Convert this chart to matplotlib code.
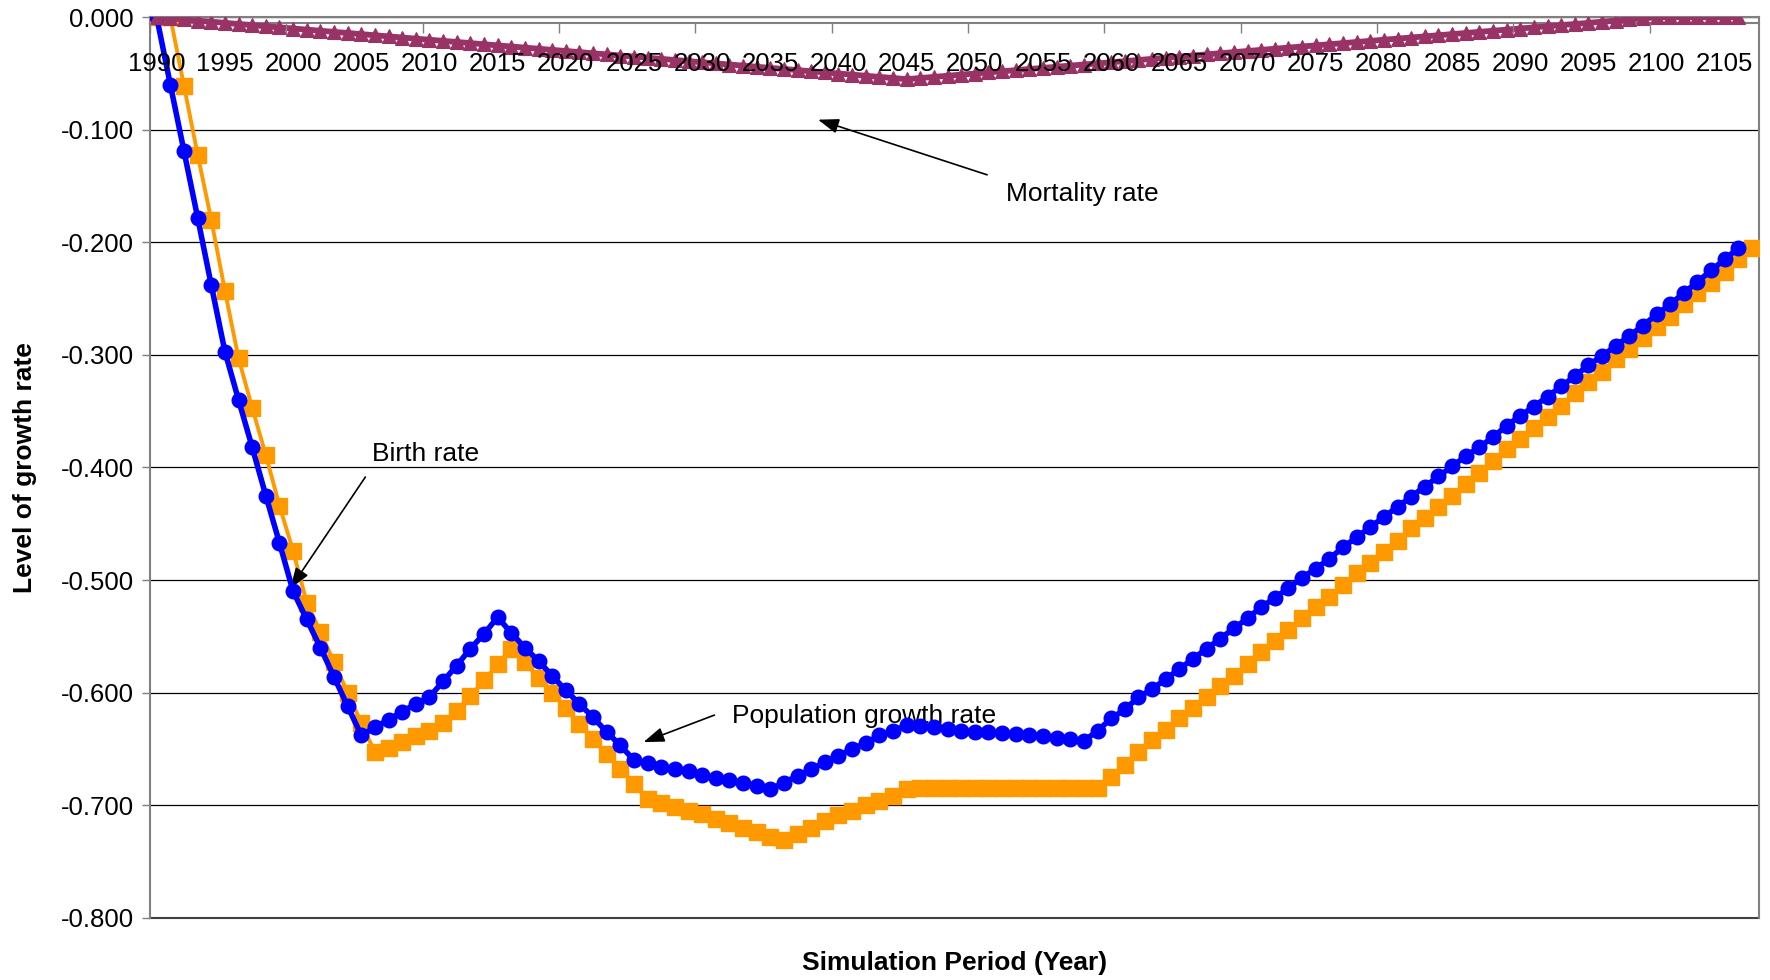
import matplotlib.pyplot as plt
import numpy as np
from matplotlib.ticker import FixedLocator, FuncFormatter

plt.rcParams['font.family'] = ['Liberation Sans', 'DejaVu Sans']
plt.rcParams['axes.unicode_minus'] = False

# birth rate, one value per year 1990-2106
birth_years = np.arange(1990, 2107)
birth_rate = [
    0.000, -0.060, -0.119, -0.178, -0.238, -0.297, -0.340, -0.382, -0.425, -0.467,   # 1990-1999
    -0.510, -0.535, -0.560, -0.586, -0.612, -0.638, -0.631, -0.624, -0.617, -0.610,  # 2000-2009
    -0.604, -0.590, -0.576, -0.561, -0.548, -0.533, -0.547, -0.560, -0.572, -0.585,  # 2010-2019
    -0.598, -0.610, -0.622, -0.635, -0.647, -0.660, -0.663, -0.666, -0.668, -0.670,  # 2020-2029
    -0.673, -0.676, -0.678, -0.680, -0.683, -0.686, -0.680, -0.674, -0.668, -0.662,  # 2030-2039
    -0.656, -0.650, -0.645, -0.638, -0.634, -0.629, -0.630, -0.631, -0.632, -0.634,  # 2040-2049
    -0.635, -0.635, -0.636, -0.637, -0.638, -0.639, -0.640, -0.641, -0.643, -0.634,  # 2050-2059
    -0.623, -0.615, -0.604, -0.597, -0.588, -0.579, -0.570, -0.561, -0.552, -0.543,  # 2060-2069
    -0.534, -0.524, -0.516, -0.507, -0.498, -0.490, -0.481, -0.471, -0.462, -0.453,  # 2070-2079
    -0.444, -0.435, -0.426, -0.417, -0.408, -0.399, -0.390, -0.382, -0.373, -0.363,  # 2080-2089
    -0.354, -0.346, -0.337, -0.328, -0.319, -0.309, -0.301, -0.292, -0.283, -0.274,  # 2090-2099
    -0.264, -0.255, -0.245, -0.235, -0.225, -0.215, -0.205,                          # 2100-2106
]

# population growth rate, 1990-2107
pop_years = np.arange(1990, 2108)
pop_growth = [
    0.000, 0.000, -0.061, -0.122, -0.180, -0.243, -0.303, -0.347, -0.389, -0.434,    # 1990-1999
    -0.474, -0.520, -0.546, -0.573, -0.600, -0.627, -0.653, -0.649, -0.644, -0.639,  # 2000-2009
    -0.634, -0.627, -0.616, -0.603, -0.589, -0.575, -0.561, -0.573, -0.587, -0.600,  # 2010-2019
    -0.614, -0.628, -0.641, -0.655, -0.668, -0.681, -0.695, -0.698, -0.702, -0.705,  # 2020-2029
    -0.708, -0.712, -0.716, -0.720, -0.724, -0.728, -0.731, -0.726, -0.720, -0.714,  # 2030-2039
    -0.709, -0.705, -0.700, -0.696, -0.692, -0.686, -0.685, -0.685, -0.685, -0.685,  # 2040-2049
    -0.685, -0.685, -0.685, -0.685, -0.685, -0.685, -0.685, -0.685, -0.685, -0.685,  # 2050-2059
    -0.675, -0.664, -0.653, -0.642, -0.633, -0.623, -0.614, -0.604, -0.594, -0.585,  # 2060-2069
    -0.575, -0.564, -0.554, -0.544, -0.534, -0.524, -0.515, -0.504, -0.494, -0.485,  # 2070-2079
    -0.475, -0.465, -0.454, -0.445, -0.435, -0.425, -0.415, -0.405, -0.394, -0.384,  # 2080-2089
    -0.375, -0.365, -0.355, -0.345, -0.334, -0.324, -0.315, -0.304, -0.295, -0.285,  # 2090-2099
    -0.275, -0.266, -0.255, -0.245, -0.236, -0.226, -0.215, -0.205,                  # 2100-2107
]

# mortality rate, 1990-2106
mort_years = np.arange(1990, 2107)
mortality = [
    0.000, -0.001, -0.002, -0.003, -0.004, -0.005, -0.006, -0.007, -0.008, -0.009,   # 1990-1999
    -0.010, -0.011, -0.012, -0.013, -0.014, -0.015, -0.016, -0.017, -0.018, -0.019,  # 2000-2009
    -0.020, -0.021, -0.022, -0.023, -0.024, -0.025, -0.026, -0.027, -0.028, -0.029,  # 2010-2019
    -0.030, -0.031, -0.032, -0.033, -0.034, -0.035, -0.036, -0.037, -0.038, -0.039,  # 2020-2029
    -0.040, -0.041, -0.042, -0.043, -0.044, -0.045, -0.046, -0.047, -0.048, -0.049,  # 2030-2039
    -0.050, -0.051, -0.052, -0.053, -0.054, -0.055, -0.054, -0.053, -0.052, -0.051,  # 2040-2049
    -0.050, -0.049, -0.048, -0.047, -0.046, -0.045, -0.044, -0.043, -0.042, -0.041,  # 2050-2059
    -0.040, -0.039, -0.038, -0.037, -0.036, -0.035, -0.034, -0.033, -0.032, -0.031,  # 2060-2069
    -0.030, -0.029, -0.028, -0.027, -0.026, -0.025, -0.024, -0.023, -0.022, -0.021,  # 2070-2079
    -0.020, -0.019, -0.018, -0.017, -0.016, -0.015, -0.014, -0.013, -0.012, -0.011,  # 2080-2089
    -0.010, -0.009, -0.008, -0.007, -0.006, -0.005, -0.004, -0.003, -0.002, -0.001,  # 2090-2099
    0.000, 0.000, 0.000, 0.000, 0.000, 0.000, 0.000,                                 # 2100-2106
]

label_years = list(range(1990, 2106, 5))
y_ticks = [0.0, -0.1, -0.2, -0.3, -0.4, -0.5, -0.6, -0.7, -0.8]

fig = plt.figure(figsize=(17.7, 9.8), dpi=100)
ax = fig.add_axes([0.0847, 0.0636, 0.9090, 0.9188])

ax.plot(pop_years, pop_growth, color='#FF9900', lw=2.8, marker='s', ms=11.5,
        mec='#FF9900', mew=1, zorder=3)
ax.plot(birth_years, birth_rate, color='#0000FF', lw=4, marker='o', ms=10.5,
        mec='#0000FF', mew=1, zorder=4)
ax.plot(mort_years, mortality, color='#993366', lw=4.2, marker='^', ms=10.5,
        mec='#993366', mew=0.8, zorder=5)

ax.set_xlim(1989.5, 2107.5)
ax.set_ylim(-0.8, 0.0)

# category axis sits at the top (value 0), labels hang below it
ax.spines['bottom'].set_position(('axes', 1 - 6 / 900))
for s in ['left', 'right', 'top', 'bottom']:
    ax.spines[s].set_color('#808080')
    ax.spines[s].set_linewidth(1.5)

ax.xaxis.set_major_locator(FixedLocator(label_years))
ax.xaxis.set_minor_locator(FixedLocator(np.arange(1989.5, 2108, 10)))
ax.tick_params(axis='x', which='major', length=0, pad=21, labelsize=18.5)
ax.tick_params(axis='x', which='minor', length=7.2, width=1, color='#808080', direction='out')

ax.yaxis.set_major_locator(FixedLocator(y_ticks))
ax.yaxis.set_major_formatter(FuncFormatter(lambda v, p: f'{v:.3f}'))
ax.tick_params(axis='y', length=5.8, width=1, color='#808080', direction='out',
               pad=6, labelsize=18.5)

ax.yaxis.grid(True, color='black', lw=0.9, zorder=0)
ax.set_axisbelow(True)
# year labels are written over the mortality curve
ax.xaxis.set_zorder(6)
ax.axhline(-0.8, color='#404040', lw=1.5, clip_on=False, zorder=1)

ax.set_xlabel('Simulation Period (Year)', fontsize=19, fontweight='bold')
ax.xaxis.set_label_coords(0.5, -0.0503)
ax.xaxis.label.set_va('center')
ax.set_ylabel('Level of growth rate', fontsize=19, fontweight='bold')
ax.yaxis.set_label_coords(-0.0778, 0.5)
ax.yaxis.label.set_va('center')

arrow = dict(arrowstyle='-|>,head_length=0.7,head_width=0.25', color='black',
             lw=1.2, mutation_scale=18, shrinkA=0, shrinkB=0)
ax.annotate('', xy=(2038.5, -0.091), xytext=(2050.9, -0.140), arrowprops=arrow)
ax.text(2052.3, -0.157, 'Mortality rate', fontsize=19, ha='left', va='center')

ax.annotate('', xy=(1999.8, -0.5075), xytext=(2005.3, -0.4085), arrowprops=arrow)
ax.text(2005.8, -0.388, 'Birth rate', fontsize=19, ha='left', va='center')

ax.annotate('', xy=(2025.7, -0.644), xytext=(2030.9, -0.620), arrowprops=arrow)
ax.text(2032.2, -0.6206, 'Population growth rate', fontsize=19, ha='left', va='center')

plt.savefig('out.png', dpi=100)
